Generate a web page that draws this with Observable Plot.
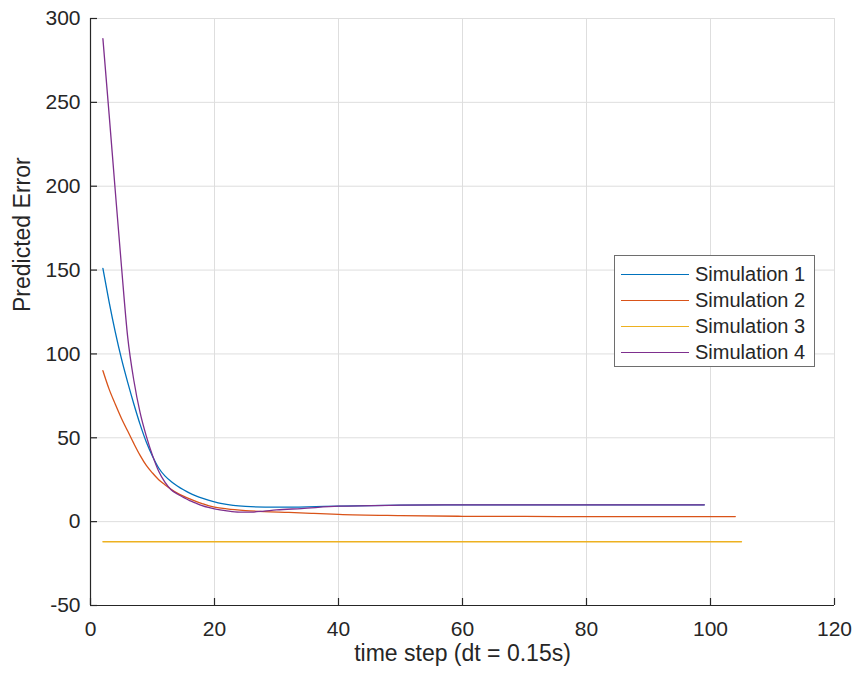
<!DOCTYPE html>
<html><head><meta charset="utf-8">
<script src="https://cdn.jsdelivr.net/npm/d3@7"></script>
<script src="https://cdn.jsdelivr.net/npm/@observablehq/plot@0.6"></script>
<style>
body{margin:0;background:#fff}
#wrap{position:relative;width:857px;height:680px;font-family:"Liberation Sans",Arial,Helvetica,sans-serif;color:#262626}
#legend{position:absolute;left:614px;top:255px;width:201px;height:112px;border:1px solid #6e6e6e;background:#fff;box-sizing:border-box}
.row{position:absolute;left:0;height:26px;display:flex;align-items:center;font-size:20px}
.row .sw{width:68px;height:0;margin-left:6px;margin-right:6px;border-top:1.3px solid}
</style>
</head><body><div id="wrap"></div>
<script>
const seriesNames = ["Simulation 1","Simulation 2","Simulation 3","Simulation 4"];
const seriesColors = ["#0072BD","#D95319","#EDB120","#7E2F8E"];

const sim1X = [2,3,4,5,6,7,8,9,10,11,12,13,14,15,16,17,18,19,20,21,23,25,30,35,40,50,60,70,80,90,99];
const sim1Y = [151,131,113,97,83,70,58,47.5,39,32,27.3,24,21.3,19,17,15.4,14,12.8,11.8,10.9,9.7,9.1,8.6,8.8,9.3,9.8,10,10,10,10,10];

const sim2X = [2,3,4,5,6,7,8,9,10,11,12,13,14,15,16,17,18,19,20,22,25,28,32,36,40,50,60,70,80,90,104];
const sim2Y = [90,79,70,61.5,54,46.5,39.5,33.5,29,25,22,19.3,17,15.2,13.6,12.1,10.8,9.6,8.7,7.6,6.6,6,5.5,4.9,4.3,3.6,3.2,3.1,3,3,3];

const sim3X = [2,105];
const sim3Y = [-12,-12];

const sim4X = [2,3,4,5,6,7,8,9,10,11,12,13,14,15,16,17,18,19,20,22,24,26,28,30,34,40,50,60,70,80,90,99];
const sim4Y = [288,243,197,152,110,84,65,51,39.5,30,23.5,19,16.5,14.5,12.5,11,9.6,8.5,7.6,6.4,5.7,5.7,6.3,7,7.8,9.2,9.8,10,10,10,10,10];

const xTicks = [0,20,40,60,80,100,120];
const yTicks = [-50,0,50,100,150,200,250,300];
const xLabel = "time step (dt = 0.15s)";
const yLabel = "Predicted Error";

const allX = [sim1X, sim2X, sim3X, sim4X];
const allY = [sim1Y, sim2Y, sim3Y, sim4Y];
const rows = [];
seriesNames.forEach((name, i) => {
  allX[i].forEach((x, j) => rows.push({series: name, x, y: allY[i][j]}));
});

const W = 857, H = 680, ML = 90, MR = 23, MT = 18, MB = 75;
const frameW = W - ML - MR, frameH = H - MT - MB;
const tickLen = 7;
const axisColor = "#262626";
const fmt = d => String(d);

const chart = Plot.plot({
  width: W, height: H,
  marginLeft: ML, marginRight: MR, marginTop: MT, marginBottom: MB,
  style: {fontFamily: '"Liberation Sans", Arial, Helvetica, sans-serif', fontSize: "21px", color: axisColor, background: "#fff"},
  x: {domain: [0, 120], ticks: xTicks, label: null},
  y: {domain: [-50, 300], ticks: yTicks, label: null},
  color: {domain: seriesNames, range: seriesColors},
  marks: [
    Plot.gridX(xTicks, {stroke: "#dedede", strokeOpacity: 1, strokeWidth: 1}),
    Plot.gridY(yTicks, {stroke: "#dedede", strokeOpacity: 1, strokeWidth: 1}),
    Plot.line(rows, {x: "x", y: "y", z: "series", stroke: "series", curve: "monotone-x", strokeWidth: 1.3}),
    Plot.ruleY([-50], {stroke: axisColor, strokeWidth: 1.2}),
    Plot.ruleX([0], {stroke: axisColor, strokeWidth: 1.2}),
    Plot.tickX(xTicks, {x: d => d, insetTop: frameH - tickLen, stroke: axisColor, strokeWidth: 1.2}),
    Plot.tickY(yTicks, {y: d => d, insetRight: frameW - tickLen, stroke: axisColor, strokeWidth: 1.2}),
    Plot.axisX({ticks: xTicks, tickSize: 0, tickPadding: 16, label: null, fontSize: 21, tickFormat: fmt}),
    Plot.axisY({ticks: yTicks, tickSize: 0, tickPadding: 10, label: null, fontSize: 21, tickFormat: fmt}),
    Plot.text([xLabel], {text: d => d, frameAnchor: "bottom", dy: 55, fontSize: 23, fill: axisColor}),
    Plot.text([yLabel], {text: d => d, frameAnchor: "left", rotate: -90, dx: -68, fontSize: 23, fill: axisColor})
  ]
});

const wrap = document.getElementById("wrap");
wrap.appendChild(chart);

const legend = document.createElement("div");
legend.id = "legend";
seriesNames.forEach((name, i) => {
  const r = document.createElement("div");
  r.className = "row";
  r.style.top = (5 + i * 26.3) + "px";
  const sw = document.createElement("span");
  sw.className = "sw";
  sw.style.borderTopColor = seriesColors[i];
  const t = document.createElement("span");
  t.textContent = name;
  r.appendChild(sw); r.appendChild(t);
  legend.appendChild(r);
});
wrap.appendChild(legend);
</script>
</body></html>
